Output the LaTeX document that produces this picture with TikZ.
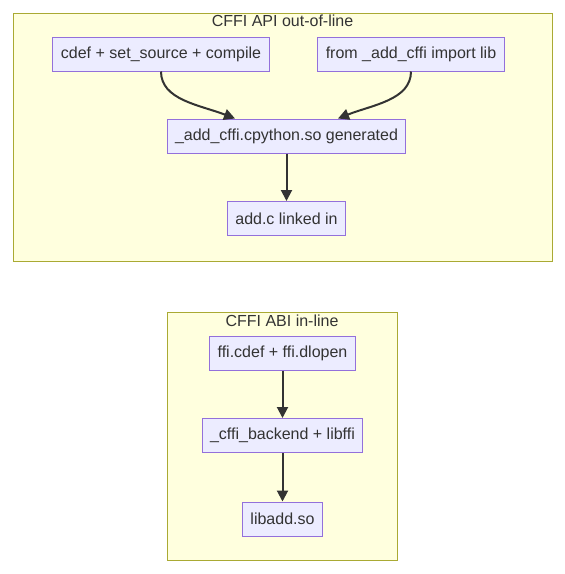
\documentclass[tikz,border=0pt]{standalone}
\usepackage{fontspec}
\setmainfont{Liberation Sans}
\usetikzlibrary{arrows.meta}
\definecolor{clusterfill}{HTML}{FFFFDE}
\definecolor{clusterline}{HTML}{AAAA33}
\definecolor{boxfill}{HTML}{ECECFF}
\definecolor{boxline}{HTML}{9370DB}
\definecolor{ink}{HTML}{333333}
\begin{document}
\begin{tikzpicture}[
    x=1pt, y=-1pt,
    cluster/.style={rectangle, draw=clusterline, fill=clusterfill, line width=1pt},
    title/.style={font=\fontsize{16}{19}\selectfont, text=ink},
    box/.style={rectangle, draw=boxline, fill=boxfill, line width=1pt, minimum height=34pt, inner xsep=8pt, font=\fontsize{16}{19}\selectfont, text=ink},
    arrow/.style={-{Triangle[length=11pt,width=11pt]}, draw=ink, line width=2pt}
]
\useasboundingbox (0,0) rectangle (565,574);

% Clusters
\node[cluster, minimum width=539pt, minimum height=248pt] (api) at (282.5,137) {};
\node[title] (apititle) at (282.5,21) {CFFI API out-of-line};
\node[cluster, minimum width=230pt, minimum height=248pt] (abi) at (282,436) {};
\node[title] (abititle) at (282,321) {CFFI ABI in-line};

% API out-of-line
\node[box] (cdef) at (161,54) {cdef + set\_source + compile};
\node[box] (imp) at (411,54) {from \_add\_cffi import lib};
\node[box] (gen) at (286.5,136) {\_add\_cffi.cpython.so generated};
\node[box] (addc) at (286.5,218.5) {add.c linked in};

\draw[arrow] (cdef.south) .. controls (161,100) and (200,105) .. (gen.north -| 235,0);
\draw[arrow] (imp.south) .. controls (411,100) and (372,105) .. (gen.north -| 338,0);
\draw[arrow] (gen) -- (addc);

% ABI in-line
\node[box] (dlopen) at (282.5,353) {ffi.cdef + ffi.dlopen};
\node[box] (backend) at (282.5,435.5) {\_cffi\_backend + libffi};
\node[box] (libadd) at (282.5,519) {libadd.so};

\draw[arrow] (dlopen) -- (backend);
\draw[arrow] (backend) -- (libadd);

\end{tikzpicture}
\end{document}
